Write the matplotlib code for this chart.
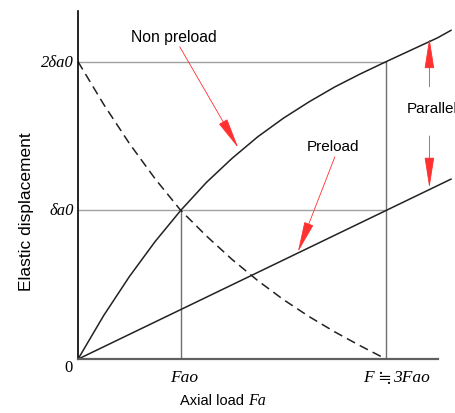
import matplotlib
matplotlib.use('Agg')
import matplotlib.pyplot as plt

# values (x in units of Fao, y in units of delta_a0)
x_np = [0, 0.25, 0.5, 0.75, 1.0, 1.25, 1.5, 1.75, 2.0, 2.25, 2.5, 2.75, 3.0, 3.25, 3.5, 3.63]
y_np = [0, 0.293, 0.555, 0.79, 1.0, 1.188, 1.35, 1.495, 1.62, 1.73, 1.83, 1.918, 2.0, 2.08, 2.16, 2.21]

x_dash = [0, 0.25, 0.5, 0.75, 1.0, 1.25, 1.5, 1.75, 2.0, 2.25, 2.5, 2.75, 3.0]
y_dash = [2.0, 1.713, 1.45, 1.213, 1.0, 0.828, 0.67, 0.528, 0.40, 0.286, 0.183, 0.089, 0.0]

x_pre = [0, 3.63]
y_pre = [0, 1.21]

x_ticks = [1, 3]
# second label is drawn in three parts: F, ≒, 3Fao
x_ticklabels = ['Fao', ['F', '≒', '3Fao']]
y_ticks = [1, 2]
y_ticklabels = ['δa0', '2δa0']

serif = ['Liberation Serif', 'STIXGeneral', 'DejaVu Serif']
plt.rcParams['font.family'] = ['Liberation Sans', 'DejaVu Sans']

fig = plt.figure(figsize=(4.56, 4.14), dpi=100)
ax = fig.add_axes([0.171, 0.130, 0.827, 0.841])
ax.set_xlim(0, 3.67)
ax.set_ylim(0, 2.34)

# guide lines
ax.plot([0, 3], [2, 2], color='#a0a0a0', lw=1.0)
ax.plot([0, 3], [1, 1], color='#a0a0a0', lw=1.0)
ax.plot([1, 1], [0, 1], color='#707070', lw=1.0)
ax.plot([3, 3], [0, 2], color='#707070', lw=1.0)

# curves
ax.plot(x_np, y_np, color='#222222', lw=1.1, clip_on=False)
ax.plot(x_pre, y_pre, color='#222222', lw=1.1, clip_on=False)
ax.plot(x_dash, y_dash, color='#222222', lw=1.1, linestyle=(0, (6, 3.5)))

for s in ['top', 'right']:
    ax.spines[s].set_visible(False)
ax.spines['left'].set_color('black')
ax.spines['left'].set_linewidth(1.2)
ax.spines['bottom'].set_color('#606060')
ax.spines['bottom'].set_linewidth(1.6)
ax.spines['bottom'].set_bounds(0, 3.5)
ax.set_xticks([])
ax.set_yticks([])

# tick labels
ax.text(-0.05, -0.05, '0', ha='right', va='center', fontsize=12, family=serif)
ax.text(x_ticks[0] + 0.03, -0.12, x_ticklabels[0], ha='center', va='center',
        fontsize=12.5, style='italic', family=serif)
p1, p2, p3 = x_ticklabels[1]
ax.annotate(p1, (x_ticks[1], -0.12), xytext=(-23, 0), textcoords='offset pixels',
            ha='left', va='center', fontsize=12.5, style='italic', family=serif,
            annotation_clip=False)
ax.annotate(p2, (x_ticks[1], -0.12), xytext=(-2, 0), textcoords='offset pixels',
            ha='center', va='center', fontsize=12.5, family=['STIXGeneral', 'DejaVu Serif'],
            annotation_clip=False)
ax.annotate(p3, (x_ticks[1], -0.12), xytext=(7, 0), textcoords='offset pixels',
            ha='left', va='center', fontsize=12.5, style='italic', family=serif,
            annotation_clip=False)
for yv, lab in zip(y_ticks, y_ticklabels):
    ax.text(-0.04, yv, lab, ha='right', va='center', fontsize=12,
            style='italic', family=serif)

# axis labels
fig.text(0.395, 0.022, 'Axial load', fontsize=10.5, ha='left', va='baseline')
fig.text(0.545, 0.022, 'Fa', fontsize=11.5, style='italic', family=serif,
         ha='left', va='baseline')
fig.text(0.059, 0.488, 'Elastic displacement', fontsize=12.5, rotation=90,
         ha='center', va='center')

# annotations
arrow = dict(arrowstyle='-|>,head_length=1.4,head_width=0.22', color='#ff3030',
             lw=0.6, mutation_scale=14, shrinkA=0, shrinkB=0)
ax.text(0.93, 2.17, 'Non preload', fontsize=11.3, ha='center', va='center')
ax.annotate('', xy=(1.56, 1.42), xytext=(0.99, 2.10), arrowprops=arrow)
ax.text(2.48, 1.43, 'Preload', fontsize=11, ha='center', va='center')
ax.annotate('', xy=(2.14, 0.72), xytext=(2.50, 1.36), arrowprops=arrow)
ax.text(3.2, 1.69, 'Parallel', fontsize=11, ha='left', va='center', clip_on=False)
ax.annotate('', xy=(3.42, 2.16), xytext=(3.42, 1.83), arrowprops=arrow)
ax.annotate('', xy=(3.42, 1.15), xytext=(3.42, 1.50), arrowprops=arrow)

fig.savefig('out.png', dpi=100)
